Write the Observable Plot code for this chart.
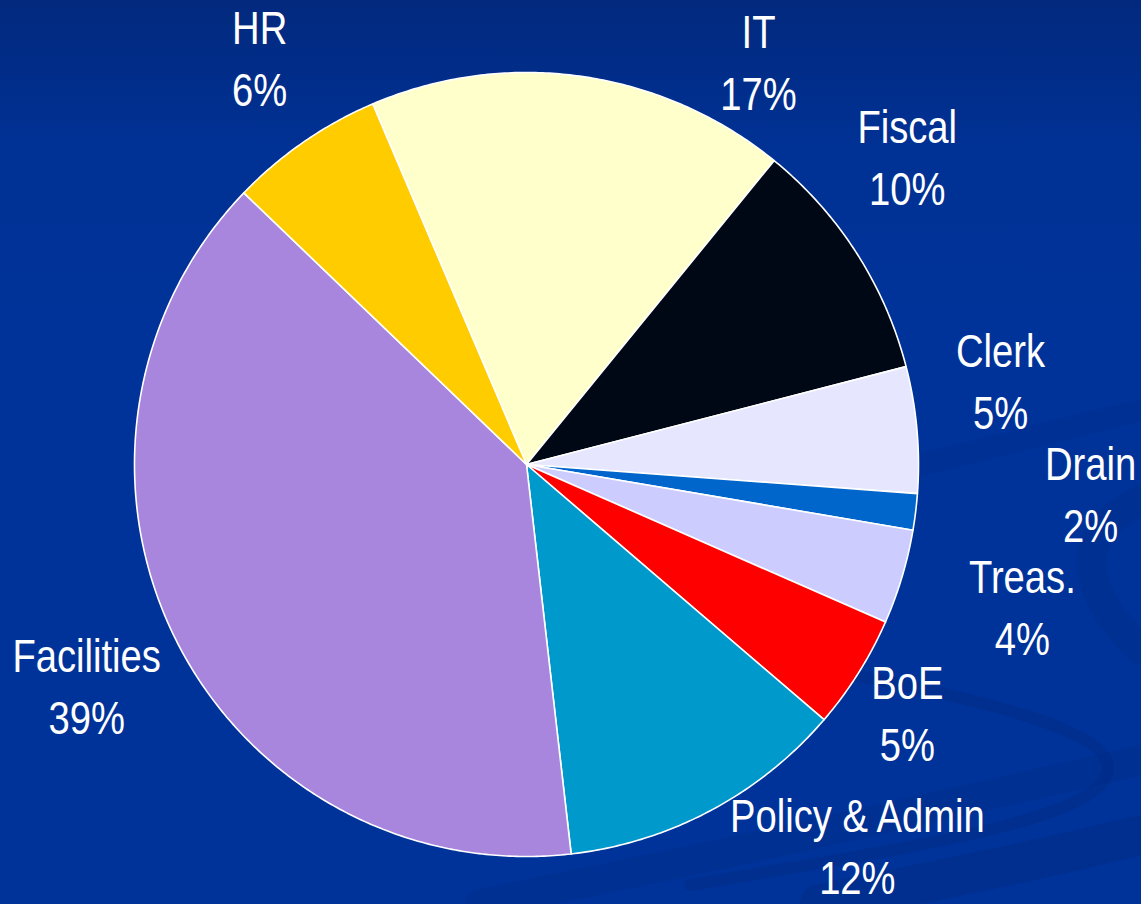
<!DOCTYPE html>
<html>
<head>
<meta charset="utf-8">
<script src="https://cdn.jsdelivr.net/npm/d3@7"></script>
<script src="https://cdn.jsdelivr.net/npm/@observablehq/plot@0.6"></script>
<style>
  html, body { margin: 0; padding: 0; }
  body {
    width: 1141px; height: 904px; overflow: hidden; position: relative;
    background: linear-gradient(180deg, #02297e 0%, #003194 16%, #003399 35%, #003399 100%);
  }
  #bg, #chart { position: absolute; left: 0; top: 0; }
  #chart svg { background: transparent; }
</style>
</head>
<body>
<svg id="bg" width="1141" height="904" xmlns="http://www.w3.org/2000/svg">
  <g fill="none" stroke="#00297e" stroke-linecap="round">
    <path d="M 650 640 C 900 680, 1110 720, 1108 768 C 1105 815, 960 840, 690 885" stroke-width="12" opacity="0.35"/>
    <path d="M 480 904 C 700 860, 880 820, 1141 760" stroke-width="30" opacity="0.25"/>
    <path d="M 820 904 C 940 880, 1040 860, 1141 835" stroke-width="40" opacity="0.3"/>
    <path d="M 900 470 C 980 450, 1060 430, 1141 410" stroke-width="22" opacity="0.2"/>
    <path d="M 1141 500 C 1080 530, 1070 580, 1141 650" stroke-width="30" opacity="0.25"/>
  </g>
</svg>
<div id="chart"></div>
<script>
// ---- data ----
const categories = ["IT", "Fiscal", "Clerk", "Drain", "Treas.", "BoE", "Policy & Admin", "Facilities", "HR"];
const shares     = [17.3, 10.1, 5.2, 1.5, 3.9, 4.7, 11.9, 39.0, 6.4];

// ---- layout (not data) ----
const startAngle = -23.1;          // degrees, clockwise from 12 o'clock
const labelSpots = {               // [angle in degrees, distance in radii]
  "IT": [30.0, 1.184], "Fiscal": [51.1, 1.248], "Clerk": [80.0, 1.228],
  "Drain": [93.0, 1.441], "Treas.": [106.0, 1.316], "BoE": [123.1, 1.160],
  "Policy & Admin": [139.1, 1.289], "Facilities": [243.3, 1.256], "HR": [326.7, 1.240]
};
const palette = ["#ffffcc", "#000816", "#e6e6ff", "#0066cc", "#ccccff", "#ff0000", "#0099cc", "#a886dd", "#ffcc00"];

const total = d3.sum(shares);
const rad = a => a * Math.PI / 180;

// slice outlines in unit-circle coordinates
const slicePts = [];
let acc = startAngle;
categories.forEach((name, i) => {
  const a0 = acc, a1 = acc + shares[i] / total * 360;
  acc = a1;
  slicePts.push({name, x: 0, y: 0});
  const n = Math.max(2, Math.ceil((a1 - a0) / 0.5));
  for (let k = 0; k <= n; k++) {
    const a = rad(a0 + (a1 - a0) * k / n);
    slicePts.push({name, x: Math.sin(a), y: Math.cos(a)});
  }
  slicePts.push({name, x: 0, y: 0});
});

const labels = categories.map((name, i) => {
  const [ang, dist] = labelSpots[name];
  return {
    name,
    x: dist * Math.sin(rad(ang)),
    y: dist * Math.cos(rad(ang)),
    text: `${name}\n${Math.round(shares[i] / total * 100)}%`
  };
});

const chart = Plot.plot({
  width: 1141,
  height: 904,
  marginLeft: 134,
  marginRight: 223,
  marginTop: 72,
  marginBottom: 48,
  x: {domain: [-1, 1], axis: null},
  y: {domain: [-1, 1], axis: null},
  color: {domain: categories, range: palette},
  style: {background: "transparent", overflow: "visible"},
  marks: [
    Plot.line(slicePts, {
      x: "x", y: "y", z: "name", fill: "name",
      stroke: "white", strokeWidth: 1.6, strokeLinejoin: "round", curve: "linear"
    }),
    Plot.text(labels, {
      x: "x", y: "y", text: "text", dy: -3,
      fill: "white", fontSize: 46, lineHeight: 1.35, textAnchor: "middle",
      fontFamily: "'Liberation Sans Narrow', 'Arial Narrow', 'Liberation Sans', Arial, sans-serif",
      className: "pie-label"
    })
  ]
});
document.getElementById("chart").appendChild(chart);

// condense the labels horizontally (no narrow font installed)
chart.querySelectorAll("g.pie-label text, .pie-label text").forEach(t => {
  const tr = t.getAttribute("transform") || "";
  const x = +(t.getAttribute("x") || 0);
  t.setAttribute("transform", `${tr} translate(${x},0) scale(0.83,1) translate(${-x},0)`);
});
</script>
</body>
</html>
